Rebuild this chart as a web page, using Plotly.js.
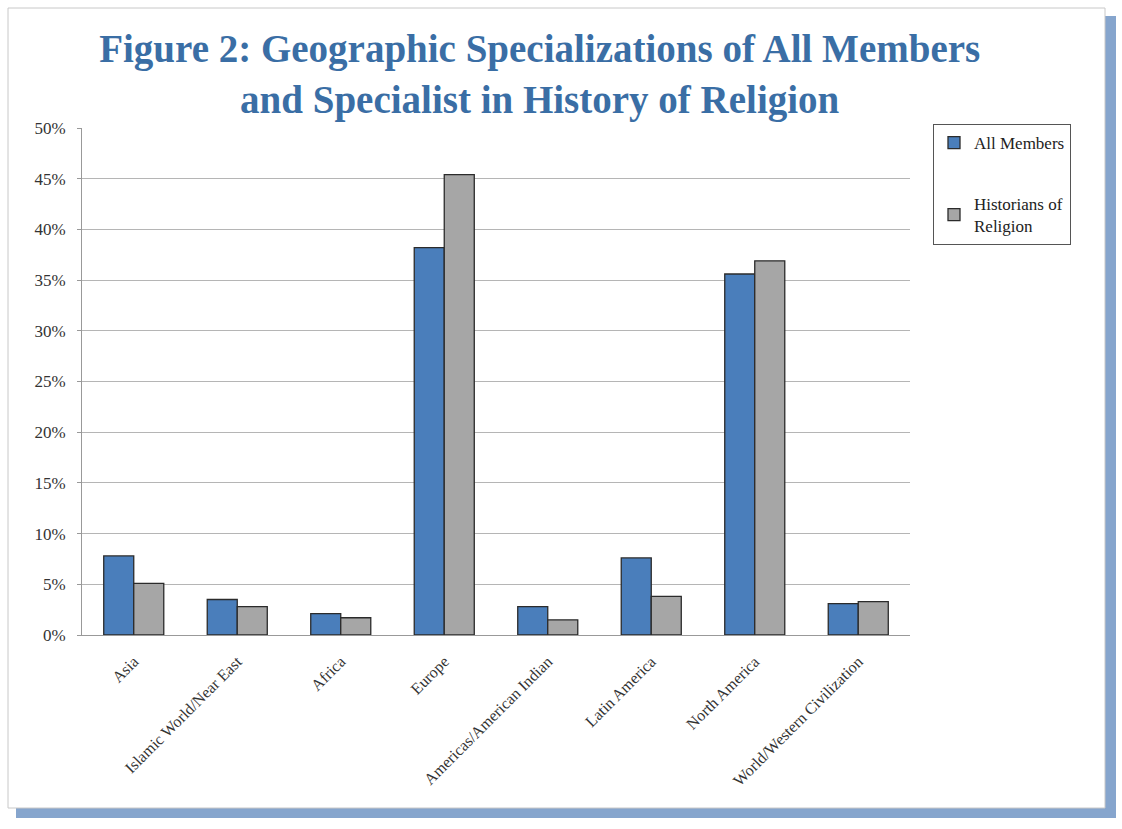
<!DOCTYPE html>
<html>
<head>
<meta charset="utf-8">
<script src="https://cdn.plot.ly/plotly-3.0.1.min.js"></script>
<style>html,body{margin:0;padding:0;background:#fff;}#chart{width:1122px;height:829px;}</style>
</head>
<body>
<div id="chart"></div>
<script>
const categories = ["Asia", "Islamic World/Near East", "Africa", "Europe", "Americas/American Indian", "Latin America", "North America", "World/Western Civilization"];
const allMembers = [0.078, 0.035, 0.021, 0.382, 0.028, 0.076, 0.356, 0.031];
const historiansOfReligion = [0.051, 0.028, 0.017, 0.454, 0.015, 0.038, 0.369, 0.033];
const yTickValues = [0, 0.05, 0.10, 0.15, 0.20, 0.25, 0.30, 0.35, 0.40, 0.45, 0.50];
const yTickLabels = ["0%", "5%", "10%", "15%", "20%", "25%", "30%", "35%", "40%", "45%", "50%"];

const W = 1122, H = 829;
const mL = 82, mR = 212, mT = 128, mB = 194;
const pw = W - mL - mR, ph = H - mT - mB;
function px(x){ return (x - mL) / pw; }
function py(y){ return (H - mB - y) / ph; }

const serif = "Liberation Serif, Times New Roman, serif";

const traces = [
  {
    type: "bar", name: "All Members", x: categories, y: allMembers,
    marker: {color: "#4a7ebb", line: {color: "#2b2b2b", width: 1.3}},
    legendgroup: "a"
  },
  {
    type: "bar", name: "Historians of<br>Religion", x: categories, y: historiansOfReligion,
    marker: {color: "#a6a6a6", line: {color: "#2b2b2b", width: 1.3}},
    legendgroup: "b"
  }
];

const layout = {
  width: W, height: H,
  margin: {l: mL, r: mR, t: mT, b: mB, pad: 0},
  paper_bgcolor: "#ffffff", plot_bgcolor: "rgba(0,0,0,0)",
  barmode: "group", bargap: 0.42, bargroupgap: 0,
  font: {family: serif, color: "#222"},
  title: {
    text: "<b>Figure 2: Geographic Specializations of All Members<br>and Specialist in History of Religion</b>",
    font: {family: serif, size: 39, color: "#3a6ea5"},
    x: 0.481, xref: "container", xanchor: "center",
    y: 1 - 62 / H, yref: "container", yanchor: "top"
  },
  xaxis: {
    type: "category", tickangle: -45,
    tickfont: {family: serif, size: 16, color: "#333"},
    showline: true, linecolor: "#999", linewidth: 1,
    ticks: "", ticklabelstandoff: 10, showgrid: false, fixedrange: true
  },
  yaxis: {
    range: [0, 0.5], tickvals: yTickValues, ticktext: yTickLabels,
    tickfont: {family: serif, size: 17, color: "#333"},
    showline: true, linecolor: "#999", linewidth: 1,
    gridcolor: "#b5b5b5", gridwidth: 1,
    ticks: "outside", ticklen: 4, tickcolor: "#999", ticklabelstandoff: 8,
    zeroline: false, fixedrange: true
  },
  legend: {
    x: px(933), y: py(124), xanchor: "left", yanchor: "top",
    bordercolor: "#555", borderwidth: 1, bgcolor: "#fff",
    font: {family: serif, size: 17, color: "#222"},
    traceorder: "grouped", tracegroupgap: 36, itemwidth: 30
  },
  shapes: [
    {type: "rect", xref: "paper", yref: "paper", x0: px(16), x1: px(1116), y0: py(818), y1: py(16),
     fillcolor: "#86a5cd", line: {width: 0}, layer: "below"},
    {type: "rect", xref: "paper", yref: "paper", x0: px(8), x1: px(1105), y0: py(808), y1: py(8),
     fillcolor: "#ffffff", line: {color: "#c8c8c8", width: 1}, layer: "below"}
  ],
  showlegend: true
};

Plotly.newPlot("chart", traces, layout, {displayModeBar: false, staticPlot: true});
</script>
</body>
</html>
